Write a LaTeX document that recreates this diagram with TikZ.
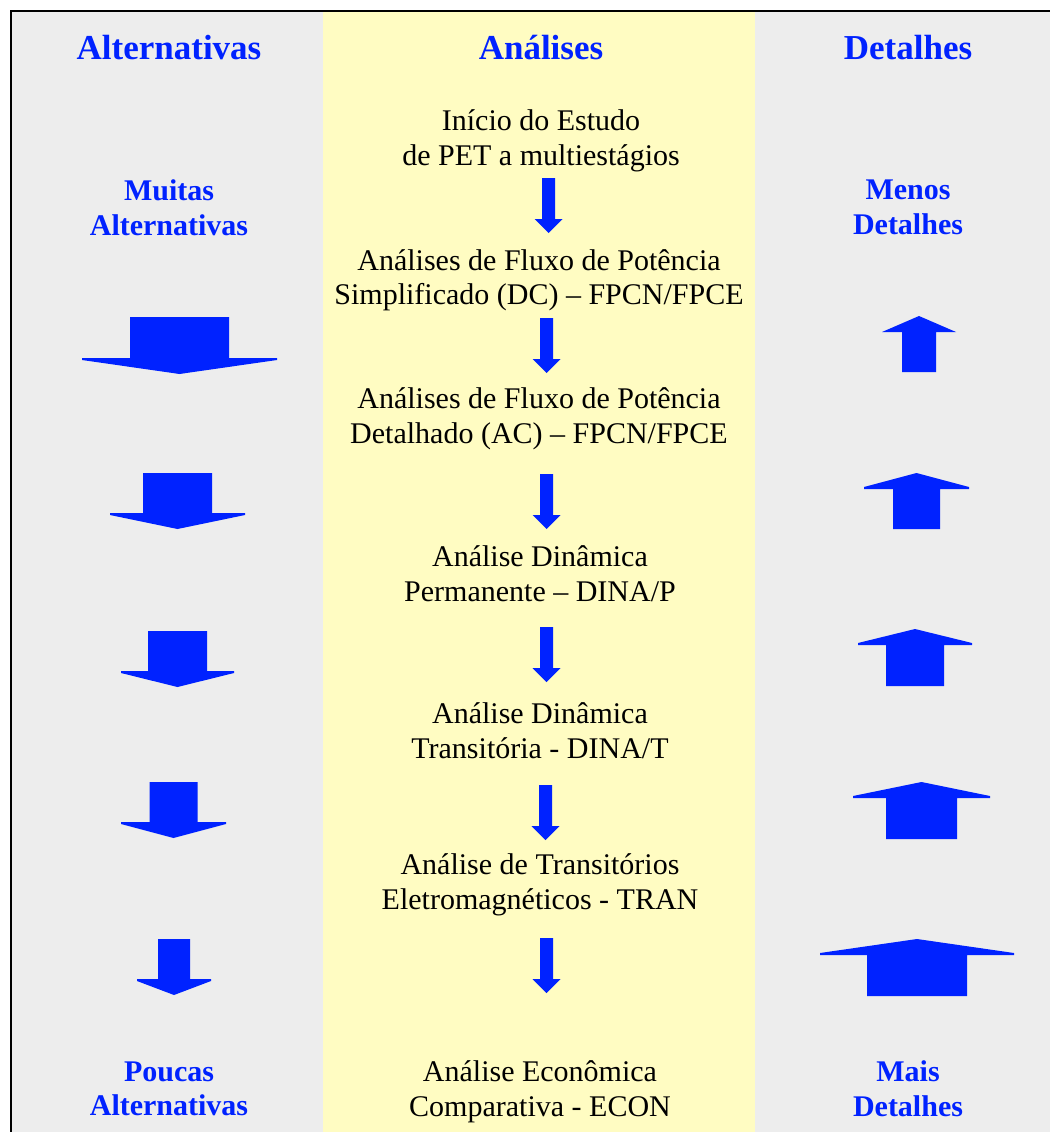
\documentclass[tikz,border=0pt]{standalone}
\usepackage{fontspec}
\setmainfont{Liberation Serif}
\definecolor{arrblue}{RGB}{0,34,255}
\definecolor{colgray}{RGB}{237,237,237}
\definecolor{colyellow}{RGB}{255,252,194}
% cx, top, shaft half, wing half, wing y, tip y, wing edge
\newcommand\DownBlock[7]{%
  \fill[arrblue] (#1-#3,#2) -- (#1+#3,#2) -- (#1+#3,#5) -- (#1+#4,#5) -- (#1+#4,#5+#7)
    -- (#1,#6) -- (#1-#4,#5+#7) -- (#1-#4,#5) -- (#1-#3,#5) -- cycle;}
% cx, tip y, shaft half, wing half, wing y, bottom, wing edge
\newcommand\UpBlock[7]{%
  \fill[arrblue] (#1,#2) -- (#1+#4,#5) -- (#1+#4,#5+#7) -- (#1+#3,#5+#7) -- (#1+#3,#6)
    -- (#1-#3,#6) -- (#1-#3,#5+#7) -- (#1-#4,#5+#7) -- (#1-#4,#5) -- cycle;}
\begin{document}
\begin{tikzpicture}[x=1pt,y=-1pt,
  head/.style={inner sep=0pt, font=\fontsize{35}{40}\selectfont\bfseries, text=arrblue},
  side/.style={inner sep=0pt, align=center, font=\fontsize{30}{34.5}\selectfont\bfseries, text=arrblue},
  stage/.style={inner sep=0pt, align=center, font=\fontsize{30}{34.5}\selectfont, text=black}]
\useasboundingbox (0,0) rectangle (1050,1132);
\fill[white] (0,0) rectangle (1050,1132);
\fill[colgray] (10,11) rectangle (1050,1132);
\fill[colyellow] (323,12) rectangle (755,1132);
\draw[line width=2pt] (10.5,1132) -- (10.5,11) -- (1050,11);

% headers
\node[head] (hA) at (169,48) {Alternativas};
\node[head] (hB) at (541,48) {Análises};
\node[head] (hC) at (908,48) {Detalhes};

% side labels
\node[side] (lt) at (169,207.5) {Muitas\\Alternativas};
\node[side] (rt) at (908,207.5) {Menos\\Detalhes};
\node[side] (lb) at (169,1089) {Poucas\\Alternativas};
\node[side] (rb) at (908,1088.5) {Mais\\Detalhes};

% stages
\node[stage] (s0) at (541,141) {Início do Estudo\\de PET a multiestágios};
\node[stage] (s1) at (539,280.5) {Análises de Fluxo de Potência\\Simplificado (DC) – FPCN/FPCE};
\node[stage] (s2) at (539,419) {Análises de Fluxo de Potência\\Detalhado (AC) – FPCN/FPCE};
\node[stage] (s3) at (540,573.5) {Análise Dinâmica\\Permanente – DINA/P};
\node[stage] (s4) at (540,730.5) {Análise Dinâmica\\Transitória - DINA/T};
\node[stage] (s5) at (540,885) {Análise de Transitórios\\Eletromagnéticos - TRAN};
\node[stage] (s6) at (540,1091.5) {Análise Econômica\\Comparativa - ECON};

% middle arrows
\DownBlock{548.5}{178}{6.5}{14}{219}{233}{0}
\DownBlock{546.5}{318}{6.5}{14}{359}{373}{0}
\DownBlock{546.5}{474}{6.5}{14}{515}{529}{0}
\DownBlock{546.5}{627}{6.5}{14}{668}{682}{0}
\DownBlock{545.5}{785}{6.5}{14}{826}{840}{0}
\DownBlock{546.5}{938}{6.5}{14}{979}{993}{0}

% left arrows (down)
\DownBlock{179.5}{317}{49.5}{97.5}{358}{374}{2}
\DownBlock{177.5}{473}{34.5}{67.5}{513}{529}{2}
\DownBlock{177.5}{631}{29.5}{56.5}{671}{687}{2}
\DownBlock{173.5}{782}{24}{52.5}{822}{838}{2}
\DownBlock{174}{939}{16}{37}{979}{995}{2}

% right arrows (up)
\UpBlock{919}{316}{17}{37}{332}{372}{0}
\UpBlock{916.5}{473}{23.5}{52.5}{487}{529}{2}
\UpBlock{915}{629}{29}{57}{643}{686}{2}
\UpBlock{921.5}{782}{35.5}{68.5}{796}{839}{2}
\UpBlock{917}{939}{50}{97}{953}{996}{2}
\end{tikzpicture}
\end{document}
